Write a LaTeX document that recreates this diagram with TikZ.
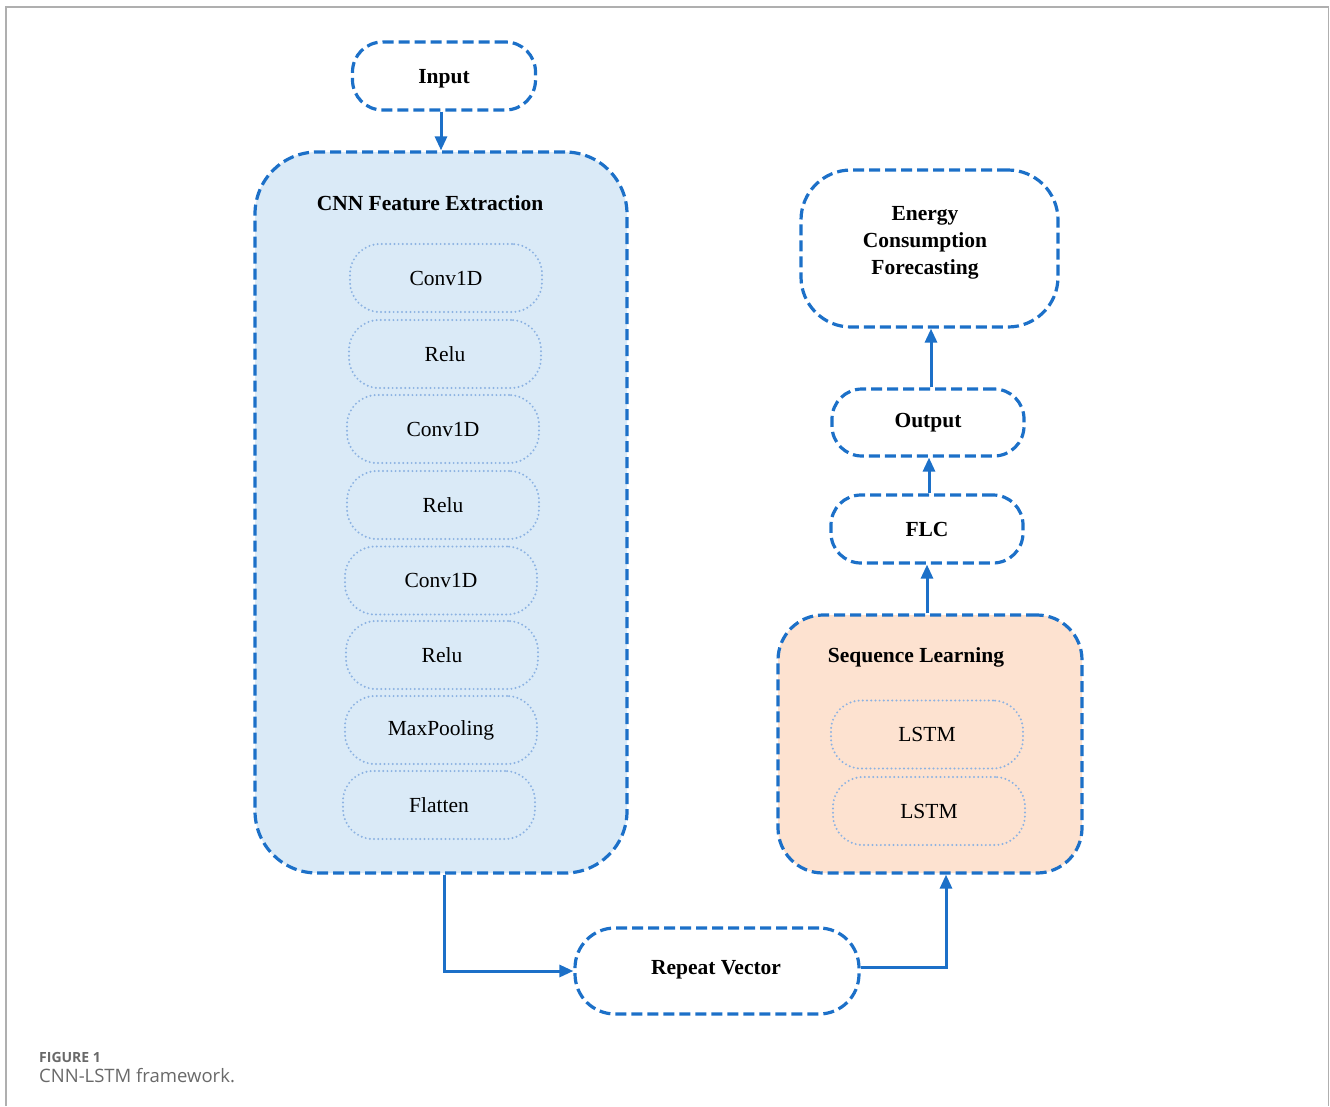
\documentclass[tikz,border=0pt]{standalone}
\usepackage{fontspec}
\setmainfont{Liberation Serif}
\newfontfamily\capfont{Open Sans}
\usetikzlibrary{arrows.meta}
\definecolor{lineblue}{RGB}{28,112,200}
\definecolor{dotblue}{RGB}{140,178,226}
\definecolor{cnnfill}{RGB}{218,234,247}
\definecolor{seqfill}{RGB}{253,226,208}
\definecolor{framegray}{RGB}{175,175,175}
\definecolor{capgray}{RGB}{105,105,105}
\tikzset{
  outer/.style={draw=lineblue, line width=3.2pt, dash pattern=on 11pt off 5pt,
    rectangle, rounded corners=30pt, font=\fontsize{21.5}{26}\selectfont\bfseries,
    align=center, inner sep=0pt},
  inner/.style={draw=dotblue, line width=2.2pt, line cap=round, dash pattern=on 0pt off 4.2pt,
    rectangle, rounded corners=30pt, minimum width=192pt, minimum height=68pt,
    font=\fontsize{21.5}{26}\selectfont, inner sep=0pt},
  arr/.style={draw=lineblue, line width=3pt, -{Triangle[length=14pt,width=12pt]}},
  title/.style={font=\fontsize{21.5}{27}\selectfont\bfseries, inner sep=0pt, align=center}
}
\begin{document}
\begin{tikzpicture}[x=1pt, y=-1pt]
\useasboundingbox (0,0) rectangle (1330,1106);
% page frame
\draw[framegray, line width=1.3pt] (6,1106) -- (6,7) -- (1328.5,7) -- (1328.5,1106);

% left column
\node[outer, text depth=0pt, minimum width=183pt, minimum height=68pt] (input) at (444,76) {Input};
\node[outer, fill=cnnfill, rounded corners=62pt, minimum width=372pt, minimum height=721pt] (cnn) at (441,512.5) {};
\node[title] (cnntitle) at (430,203) {CNN Feature Extraction};
\node[inner] (c1) at (446,278) {Conv1D};
\node[inner] (c2) at (445,354) {Relu};
\node[inner] (c3) at (443,429) {Conv1D};
\node[inner] (c4) at (443,505) {Relu};
\node[inner] (c5) at (441,580.5) {Conv1D};
\node[inner] (c6) at (442,655) {Relu};
\node[inner] (c7) at (441,730) {MaxPooling};
\node[inner] (c8) at (439,805) {Flatten};

% bottom
\node[outer, rounded corners=40pt, minimum width=284pt, minimum height=86pt] (rv) at (717,971) {};
\node[title] (rvtext) at (716,970) {Repeat Vector};

% right column
\node[outer, fill=seqfill, rounded corners=45pt, minimum width=304pt, minimum height=258pt] (seq) at (930,744) {};
\node[title] (seqtitle) at (916,657) {Sequence Learning};
\node[inner] (l1) at (927,734.5) {LSTM};
\node[inner] (l2) at (929,811) {LSTM};
\node[outer, minimum width=192pt, minimum height=68pt] (flc) at (927,529) {FLC};
\node[outer, minimum width=192pt, minimum height=67pt] (out) at (928,422.5) {Output};
\node[outer, rounded corners=50pt, minimum width=257pt, minimum height=157pt] (ecf) at (929.5,248.5) {};
\node[title] (ecftext) at (925,243) {Energy\\Consumption\\Forecasting};

% connectors
\draw[arr] (input.south -| cnn.north) -- (cnn.north);
\draw[arr] ([xshift=3pt]cnn.south) |- (rv.west);
\draw[arr] ([yshift=4pt]rv.east) -| ([xshift=16pt]seq.south);
\draw[arr] (flc.south |- seq.north) -- (flc.south);
\draw[arr] ([xshift=2pt]flc.north) -- ([xshift=2pt]flc.north |- out.south);
\draw[arr] ([xshift=3pt]out.north) -- ([xshift=3pt]out.north |- ecf.south);

% caption
\node[anchor=base west, inner sep=0pt, text=capgray, font=\capfont\fontsize{14}{16}\selectfont\bfseries] (figlabel) at (39,1062) {FIGURE 1};
\node[anchor=base west, inner sep=0pt, text=capgray, font=\capfont\fontsize{18.5}{21}\selectfont] (figcap) at (39,1082) {CNN-LSTM framework.};
\end{tikzpicture}
\end{document}
